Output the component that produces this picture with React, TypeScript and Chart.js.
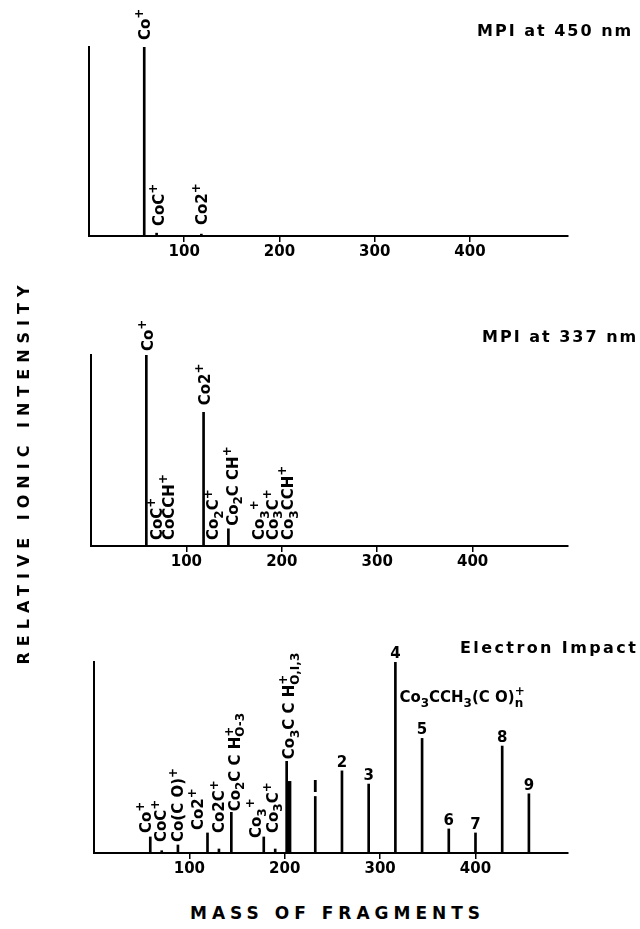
import React, { useEffect, useRef } from "react";
import { Chart, registerables } from "chart.js";

Chart.register(...registerables);

const FONT = '"DejaVu Sans", "Liberation Sans", sans-serif';

// ---------- data ----------
const xTickValues = [100, 200, 300, 400];

// Panel 1: MPI at 450 nm
const mpi450Masses = [58, 71, 118];
const mpi450Intensity = [1.0, 0.015, 0.01];
const mpi450LabelText = ["Co^+", "CoC^+", "Co2^+"];

// Panel 2: MPI at 337 nm
const mpi337Masses = [58, 118, 144];
const mpi337Intensity = [1.0, 0.7, 0.09];
const mpi337LabelText = ["Co^+", "Co2^+", "CoC^+", "CoCCH^+", "Co_2C^+", "Co_2C CH^+", "Co_3^+", "Co_3C^+", "Co_3CCH^+"];
const mpi337LabelMasses = [58, 118, 71, 84, 130, 144, 177, 189, 202];

// Panel 3: Electron impact
const eiFragMasses = [59, 71, 88, 119, 131, 144, 178, 190, 202];
const eiFragIntensity = [0.084, 0.012, 0.042, 0.105, 0.021, 0.213, 0.084, 0.021, 0.48];
const eiFragLabelText = ["Co^+", "CoC^+", "Co(C O)^+", "Co2^+", "Co2C^+", "Co_2C C H^+_{O-3}", "Co_3^+", "Co_3C^+", "Co_3C C H^+_{O,I,3}"];
const eiBroadMasses = [204.5];
const eiBroadIntensity = [0.375];
const eiSeriesN = ["I", "2", "3", "4", "5", "6", "7", "8", "9"];
const eiSeriesMasses = [232, 260, 288, 316, 344, 372, 400, 428, 456];
const eiSeriesIntensity = [0.296, 0.43, 0.361, 1.0, 0.6, 0.126, 0.105, 0.56, 0.31];
const eiSeriesFormula = "Co_3CCH_3(C O)^+_n";

// ---------- rich text helpers ----------
type Seg = { t: string; k: "n" | "sub" | "sup" };
function parseRich(m: string): Seg[] {
  const out: Seg[] = [];
  let buf = "";
  let i = 0;
  while (i < m.length) {
    const c = m[i];
    if (c === "_" || c === "^") {
      if (buf) { out.push({ t: buf, k: "n" }); buf = ""; }
      let t: string;
      if (m[i + 1] === "{") {
        const j = m.indexOf("}", i + 2);
        t = m.slice(i + 2, j);
        i = j + 1;
      } else {
        t = m[i + 1];
        i += 2;
      }
      out.push({ t, k: c === "_" ? "sub" : "sup" });
    } else {
      buf += c;
      i++;
    }
  }
  if (buf) out.push({ t: buf, k: "n" });
  return out;
}

function richRun(ctx: CanvasRenderingContext2D, segs: Seg[], size: number, draw: boolean) {
  let x = 0;
  let scriptStart = 0;
  let prev = "n";
  for (const s of segs) {
    const small = s.k !== "n";
    ctx.font = `bold ${small ? Math.round(size * 0.8) : size}px ${FONT}`;
    let start = x;
    if (s.k === "sub" && prev === "sup") start = scriptStart;
    const dy = s.k === "sub" ? size * 0.3 : s.k === "sup" ? -size * 0.45 : 0;
    if (draw) ctx.fillText(s.t, start, dy);
    const w = ctx.measureText(s.t).width;
    if (s.k === "sup") scriptStart = start;
    x = Math.max(x, start + w);
    prev = s.k;
  }
  return x;
}

function drawRotated(ctx: CanvasRenderingContext2D, xc: number, yBottom: number, text: string, size: number) {
  ctx.save();
  ctx.translate(xc, yBottom);
  ctx.rotate(-Math.PI / 2);
  ctx.translate(0, size * 0.36);
  ctx.fillStyle = "#000";
  ctx.textAlign = "left";
  ctx.textBaseline = "alphabetic";
  richRun(ctx, parseRich(text), size, true);
  ctx.restore();
}

function drawFlat(ctx: CanvasRenderingContext2D, x: number, yBase: number, text: string, size: number, align: "left" | "center") {
  const segs = parseRich(text);
  ctx.save();
  ctx.textAlign = "left";
  ctx.textBaseline = "alphabetic";
  ctx.fillStyle = "#000";
  const w = richRun(ctx, segs, size, false);
  ctx.translate(align === "center" ? x - w / 2 : x, yBase);
  richRun(ctx, segs, size, true);
  ctx.restore();
}

// ---------- label layouts ----------
interface RotLabel { text: string; mass: number; yRef: number; gap: number; dx: number }

const panel1Labels: RotLabel[] = [
  { text: mpi450LabelText[0], mass: mpi450Masses[0], yRef: mpi450Intensity[0], gap: 7, dx: 0 },
  { text: mpi450LabelText[1], mass: mpi450Masses[1], yRef: 0, gap: 10, dx: 2 },
  { text: mpi450LabelText[2], mass: mpi450Masses[2], yRef: 0, gap: 11, dx: 0 },
];

const panel2Layout = [
  { yRef: mpi337Intensity[0], gap: 4, dx: 1 },
  { yRef: mpi337Intensity[1], gap: 7, dx: 1 },
  { yRef: 0, gap: 6, dx: -2 },
  { yRef: 0, gap: 6, dx: -3 },
  { yRef: 0, gap: 6, dx: -2 },
  { yRef: mpi337Intensity[2], gap: 3, dx: 4 },
  { yRef: 0, gap: 6, dx: -1 },
  { yRef: 0, gap: 6, dx: 1 },
  { yRef: 0, gap: 6, dx: 4 },
];
const panel2Labels: RotLabel[] = mpi337LabelText.map((t, i) => ({
  text: t, mass: mpi337LabelMasses[i], ...panel2Layout[i],
}));

const panel3Layout = [
  { yRef: eiFragIntensity[0], gap: 4, dx: -5 },
  { yRef: 0, gap: 11, dx: -1 },
  { yRef: 0, gap: 11, dx: 0 },
  { yRef: 0, gap: 23, dx: -10 },
  { yRef: 0, gap: 20, dx: 0 },
  { yRef: eiFragIntensity[5], gap: 1, dx: 3 },
  { yRef: 0, gap: 15, dx: -8 },
  { yRef: 0, gap: 20, dx: -3 },
  { yRef: eiFragIntensity[8], gap: 2, dx: 2 },
];
const panel3Labels: RotLabel[] = eiFragLabelText.map((t, i) => ({
  text: t, mass: eiFragMasses[i], ...panel3Layout[i],
}));

function drawRotLabels(chart: any, labels: RotLabel[]) {
  const ctx = chart.ctx as CanvasRenderingContext2D;
  const xs = chart.scales.x;
  const ys = chart.scales.y;
  for (const l of labels) {
    const x = xs.getPixelForValue(l.mass) + l.dx;
    const y = ys.getPixelForValue(l.yRef) - l.gap;
    drawRotated(ctx, x, y, l.text, 15);
  }
}

// ---------- panel component ----------
interface PanelProps {
  top: number;
  height: number;
  area: { left: number; right: number; top: number; bottom: number };
  xMax: number;
  datasets: any[];
  draw: (chart: any) => void;
}

const AXIS_H = 30;

function SpectrumPanel(props: PanelProps) {
  const ref = useRef<HTMLCanvasElement>(null);
  useEffect(() => {
    const { area, height } = props;
    const chart = new Chart(ref.current as HTMLCanvasElement, {
      type: "bar",
      data: { datasets: props.datasets },
      options: {
        responsive: false,
        animation: false,
        devicePixelRatio: 1,
        layout: {
          padding: {
            left: area.left,
            right: 640 - area.right,
            top: area.top,
            bottom: height - area.bottom - AXIS_H,
          },
        },
        plugins: {
          legend: { display: false },
          tooltip: { enabled: false },
          title: { display: false },
        },
        scales: {
          x: {
            type: "linear",
            min: 0,
            max: props.xMax,
            offset: false,
            afterBuildTicks: (s: any) => {
              s.ticks = xTickValues.map((v) => ({ value: v }));
            },
            afterFit: (s: any) => {
              s.height = AXIS_H;
            },
            grid: {
              display: true,
              drawOnChartArea: false,
              drawTicks: true,
              tickLength: 6,
              color: "#000",
              lineWidth: 1.5,
              offset: false,
            },
            border: { display: true, color: "#000", width: 2 },
            ticks: {
              color: "#000",
              font: { family: FONT, size: 15, weight: "bold" },
              padding: 1,
              maxRotation: 0,
              autoSkip: false,
              callback: (v: any) => String(v),
            },
          },
          y: {
            min: 0,
            max: 1,
            afterFit: (s: any) => {
              s.width = 0;
            },
            ticks: { display: false },
            grid: { display: false },
            border: { display: true, color: "#000", width: 2 },
          },
        },
      } as any,
      plugins: [{ id: "peakLabels", afterDatasetsDraw: (c: any) => props.draw(c) }],
    });
    return () => chart.destroy();
  }, []);
  return (
    <canvas
      ref={ref}
      width={640}
      height={props.height}
      style={{ position: "absolute", left: 0, top: props.top, display: "block" }}
    />
  );
}

function peaks(masses: number[], values: number[], thickness: number) {
  return {
    data: masses.map((m, i) => ({ x: m, y: values[i] })),
    backgroundColor: "#000",
    borderWidth: 0,
    barThickness: thickness,
    grouped: false,
  };
}

const textBase: React.CSSProperties = {
  position: "absolute",
  fontFamily: FONT,
  fontWeight: "bold",
  color: "#000",
  whiteSpace: "nowrap",
};

export default function App() {
  return (
    <div style={{ position: "absolute", left: 0, top: 0, width: 640, height: 929, background: "#fff", overflow: "hidden" }}>
      <SpectrumPanel
        top={0}
        height={275}
        area={{ left: 89, right: 568, top: 47, bottom: 236 }}
        xMax={503}
        datasets={[peaks(mpi450Masses, mpi450Intensity, 2)]}
        draw={(c) => drawRotLabels(c, panel1Labels)}
      />
      <SpectrumPanel
        top={300}
        height={285}
        area={{ left: 91, right: 568, top: 55, bottom: 246 }}
        xMax={500}
        datasets={[peaks(mpi337Masses, mpi337Intensity, 2)]}
        draw={(c) => drawRotLabels(c, panel2Labels)}
      />
      <SpectrumPanel
        top={610}
        height={285}
        area={{ left: 94, right: 568, top: 52, bottom: 243 }}
        xMax={497}
        datasets={[
          peaks(eiFragMasses, eiFragIntensity, 2),
          peaks(eiBroadMasses, eiBroadIntensity, 4),
          peaks(eiSeriesMasses, eiSeriesIntensity, 2),
        ]}
        draw={(c) => {
          drawRotLabels(c, panel3Labels);
          const ctx = c.ctx as CanvasRenderingContext2D;
          const xs = c.scales.x;
          const ys = c.scales.y;
          eiSeriesN.forEach((n, i) => {
            drawFlat(ctx, xs.getPixelForValue(eiSeriesMasses[i]), ys.getPixelForValue(eiSeriesIntensity[i]) - 4, n, 15, "center");
          });
          drawFlat(ctx, xs.getPixelForValue(eiSeriesMasses[3]) + 4, ys.getPixelForValue(0.79), eiSeriesFormula, 15, "left");
        }}
      />

      <div style={{ ...textBase, left: 477, top: 23, fontSize: 16, lineHeight: "16px", letterSpacing: "2px" }}>MPI at 450 nm</div>
      <div style={{ ...textBase, left: 482, top: 329, fontSize: 16, lineHeight: "16px", letterSpacing: "2px" }}>MPI at 337 nm</div>
      <div style={{ ...textBase, left: 460, top: 640, fontSize: 16, lineHeight: "16px", letterSpacing: "2.4px" }}>Electron Impact</div>

      <div
        style={{
          ...textBase,
          left: 24 - 200,
          top: 472 - 8,
          width: 400,
          height: 16,
          lineHeight: "16px",
          fontSize: 16,
          textAlign: "center",
          letterSpacing: "6px",
          transform: "rotate(-90deg)",
        }}
      >
        RELATIVE IONIC INTENSITY
      </div>
      <div style={{ ...textBase, left: 190, top: 905, fontSize: 17, lineHeight: "17px", letterSpacing: "5px" }}>MASS OF FRAGMENTS</div>
    </div>
  );
}
